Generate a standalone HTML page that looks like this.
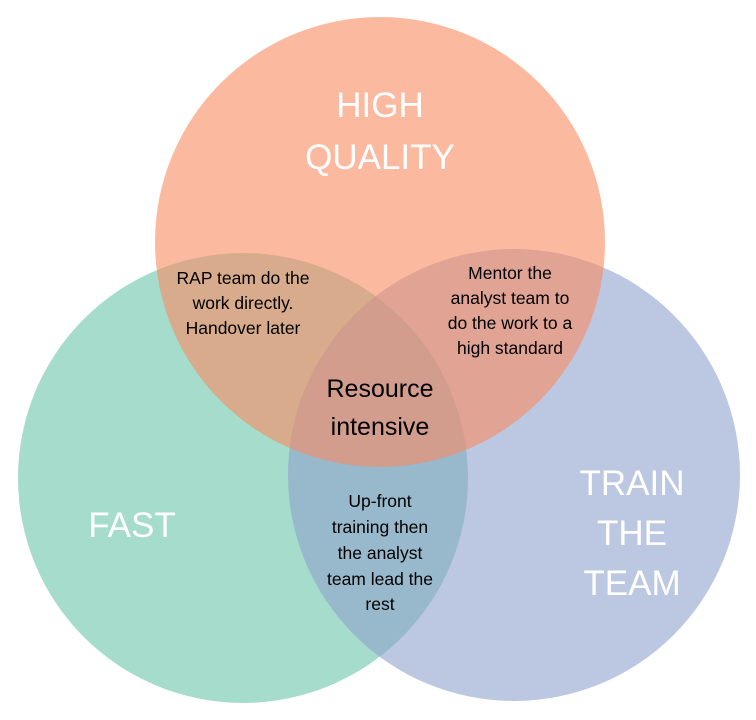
<!DOCTYPE html>
<html><head><meta charset="utf-8"><style>
html,body{margin:0;padding:0;background:#fff;}
svg{display:block;font-family:"Liberation Sans",sans-serif;}
</style></head><body>
<svg width="756" height="720" viewBox="0 0 756 720">
<circle cx="243" cy="478" r="225" fill="rgb(105,197,168)" fill-opacity="0.6"/>
<circle cx="514" cy="475" r="226" fill="rgb(143,162,205)" fill-opacity="0.6"/>
<circle cx="380" cy="242" r="225" fill="rgb(248,138,97)" fill-opacity="0.6"/>
<g fill="#fff" font-size="35" text-anchor="middle">
<text x="380" y="117">HIGH</text>
<text x="380" y="169">QUALITY</text>
<text x="132" y="537">FAST</text>
<text x="632" y="495">TRAIN</text>
<text x="632" y="545">THE</text>
<text x="632" y="595">TEAM</text>
</g>
<g fill="#000" font-size="17.5" text-anchor="middle">
<text x="243" y="284">RAP team do the</text>
<text x="243" y="309">work directly.</text>
<text x="243" y="334">Handover  later</text>
<text x="510" y="279">Mentor the</text>
<text x="510" y="304">analyst team to</text>
<text x="510" y="329">do the work to a</text>
<text x="510" y="354">high standard</text>
<text x="380" y="507">Up-front</text>
<text x="380" y="533">training then</text>
<text x="380" y="559">the analyst</text>
<text x="380" y="585">team lead the</text>
<text x="380" y="610">rest</text>
</g>
<g fill="#000" font-size="25" text-anchor="middle">
<text x="380" y="397">Resource</text>
<text x="380" y="435">intensive</text>
</g>
</svg>
</body></html>
